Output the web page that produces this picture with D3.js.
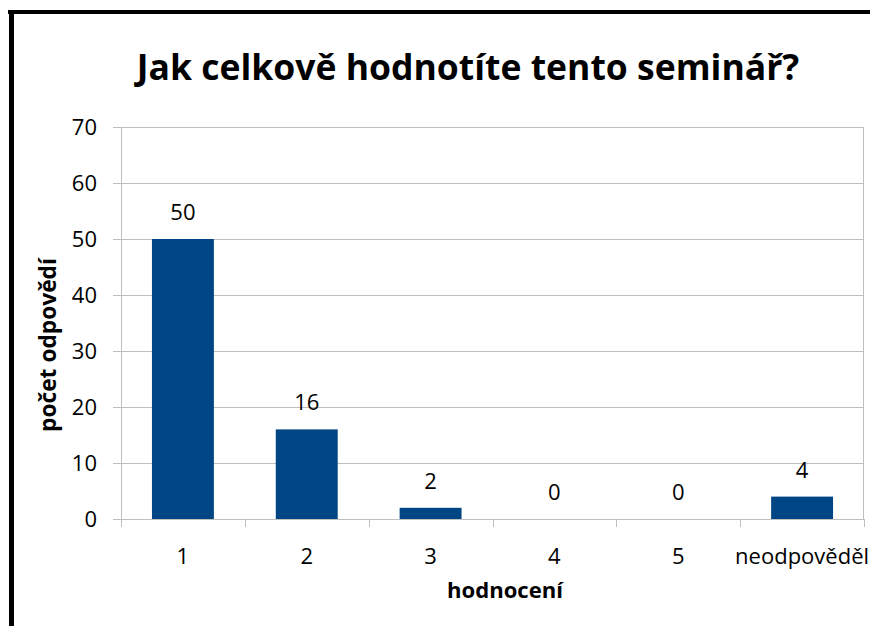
<!DOCTYPE html>
<html><head><meta charset="utf-8">
<script src="https://cdn.jsdelivr.net/npm/d3@7/dist/d3.min.js"></script>
<style>body{margin:0;background:#fff}svg{display:block}</style>
</head><body>
<script>
const title = "Jak celkově hodnotíte tento seminář?";
const categories = ["1","2","3","4","5","neodpověděl"];
const values = [50,16,2,0,0,4];
const yTicks = [0,10,20,30,40,50,60,70];
const xTitle = "hodnocení";
const yTitle = "počet odpovědí";

(function(){
const W=870,H=626;
const font="'Open Sans', 'Noto Sans', sans-serif";
const svg=d3.select("body").append("svg").attr("width",W).attr("height",H);
svg.append("rect").attr("width",W).attr("height",H).attr("fill","#fff");
svg.append("line").attr("x1",8).attr("x2",870).attr("y1",12).attr("y2",12).attr("stroke","#000").attr("stroke-width",4);
svg.append("line").attr("x1",11.5).attr("x2",11.5).attr("y1",10).attr("y2",626).attr("stroke","#000").attr("stroke-width",5);

const pL=121,pR=864,pT=127,pB=519;
const x=d3.scaleBand().domain(categories).range([pL,pR]).paddingInner(0.5).paddingOuter(0.25);
const y=d3.scaleLinear().domain([0,70]).range([pB,pT]);

const g=svg.append("g");
g.selectAll("line.grid").data(yTicks).join("line")
 .attr("x1",pL-8).attr("x2",pR).attr("y1",d=>Math.round(y(d))+0.5).attr("y2",d=>Math.round(y(d))+0.5)
 .attr("stroke","#bfbfbf").attr("stroke-width",1);
g.append("line").attr("x1",pL+0.5).attr("x2",pL+0.5).attr("y1",pT).attr("y2",pB).attr("stroke","#bfbfbf");
g.append("line").attr("x1",pR-0.5).attr("x2",pR-0.5).attr("y1",pT).attr("y2",pB).attr("stroke","#bfbfbf");
const bounds=d3.range(categories.length+1).map(i=>pL+i*(pR-pL)/categories.length);
g.selectAll("line.xt").data(bounds).join("line")
 .attr("x1",d=>Math.round(d)+0.5).attr("x2",d=>Math.round(d)+0.5).attr("y1",pB).attr("y2",pB+8)
 .attr("stroke","#bfbfbf");

svg.selectAll("rect.bar").data(values).join("rect")
 .attr("x",(d,i)=>x(categories[i])).attr("width",x.bandwidth())
 .attr("y",d=>y(d)).attr("height",d=>y(0)-y(d)).attr("fill","#004584");

svg.selectAll("text.val").data(values).join("text")
 .attr("x",(d,i)=>x(categories[i])+x.bandwidth()/2).attr("y",d=>y(d)-19)
 .attr("text-anchor","middle").attr("font-family",font).attr("font-size",22).attr("fill","#000")
 .text(d=>d);

svg.selectAll("text.yt").data(yTicks).join("text")
 .attr("x",97).attr("y",d=>y(d)+8).attr("text-anchor","end")
 .attr("font-family",font).attr("font-size",22).text(d=>d);

svg.selectAll("text.xt").data(categories).join("text")
 .attr("x",d=>x(d)+x.bandwidth()/2).attr("y",564).attr("text-anchor","middle")
 .attr("font-family",font).attr("font-size",22).text(d=>d);

function fit(sel,target,base){const w=sel.node().getComputedTextLength(); sel.attr("font-size",base*target/w);}
const t=svg.append("text").attr("x",468).attr("y",80).attr("text-anchor","middle")
 .attr("font-family",font).attr("font-weight","bold").attr("font-size",34).text(title);
fit(t,663,34);
const xt=svg.append("text").attr("x",505).attr("y",598).attr("text-anchor","middle")
 .attr("font-family",font).attr("font-weight","bold").attr("font-size",20).text(xTitle);
fit(xt,116,20);
const yt=svg.append("text").attr("transform","translate(56,345) rotate(-90)").attr("text-anchor","middle")
 .attr("font-family",font).attr("font-weight","bold").attr("font-size",20).text(yTitle);
fit(yt,174,20);
})();
</script>
</body></html>
